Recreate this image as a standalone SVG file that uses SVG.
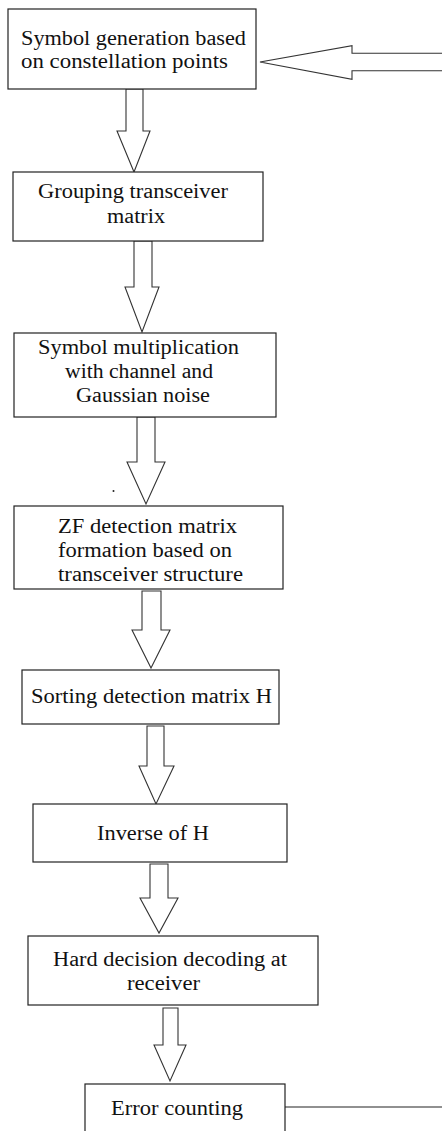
<svg xmlns="http://www.w3.org/2000/svg" width="442" height="1131" viewBox="0 0 442 1131">
<style>
.box{fill:#fff;stroke:#222;stroke-width:1.2}
.arr{fill:#fff;stroke:#333;stroke-width:1.1;stroke-linejoin:miter}
.line{fill:none;stroke:#222;stroke-width:1.1}
text{font-family:"Liberation Serif","Times New Roman",serif;font-size:20px;fill:#111}
</style>
<rect width="442" height="1131" fill="#fff"/>
<g id="connectors">
<path class="arr" d="M442,53.3 L352,53.3 L352,45.7 L260,62 L352,79.3 L352,70.7 L442,70.7"/>
<path class="arr" d="M126,89 L126,131 L117,131 L134,172 L150,131 L143,131 L143,89 Z"/>
<path class="arr" d="M134,241 L134,287 L125,287 L142,332 L159,287 L152,287 L152,241 Z"/>
<path class="arr" d="M137,417 L137,462 L127,462 L146,504 L165,462 L155,462 L155,417 Z"/>
<path class="arr" d="M142,591 L142,630 L132,630 L151,668 L170,630 L161,630 L161,591 Z"/>
<path class="arr" d="M147,726 L147,766 L139,766 L156,804 L174,766 L164,766 L164,726 Z"/>
<path class="arr" d="M150,864 L150,898 L140,898 L159,933 L178,898 L168,898 L168,864 Z"/>
<path class="arr" d="M163,1008 L163,1045 L154,1045 L170,1081 L186,1045 L178,1045 L178,1008 Z"/>
<path class="line" d="M285,1107 L442,1107"/>
<circle cx="113.5" cy="491" r="1" fill="#222"/>
</g>
<g id="n1">
<rect class="box" x="8" y="9" width="248" height="80"/>
<text x="21" y="45" textLength="225" lengthAdjust="spacingAndGlyphs">Symbol generation based</text>
<text x="21" y="68" textLength="207" lengthAdjust="spacingAndGlyphs">on constellation points</text>
</g>
<g id="n2">
<rect class="box" x="13" y="172" width="250" height="69"/>
<text x="38" y="198" textLength="190" lengthAdjust="spacingAndGlyphs">Grouping transceiver</text>
<text x="107" y="223" textLength="58" lengthAdjust="spacingAndGlyphs">matrix</text>
</g>
<g id="n3">
<rect class="box" x="14" y="333" width="262" height="84"/>
<text x="38" y="354" textLength="201" lengthAdjust="spacingAndGlyphs">Symbol multiplication</text>
<text x="65" y="378" textLength="148" lengthAdjust="spacingAndGlyphs">with channel and</text>
<text x="76" y="402" textLength="134" lengthAdjust="spacingAndGlyphs">Gaussian noise</text>
</g>
<g id="n4">
<rect class="box" x="14" y="506" width="269" height="83"/>
<text x="58" y="533" textLength="179" lengthAdjust="spacingAndGlyphs">ZF detection matrix</text>
<text x="58" y="557" textLength="174" lengthAdjust="spacingAndGlyphs">formation based on</text>
<text x="58" y="581" textLength="185" lengthAdjust="spacingAndGlyphs">transceiver structure</text>
</g>
<g id="n5">
<rect class="box" x="22" y="670" width="257" height="54"/>
<text x="31" y="703" textLength="241" lengthAdjust="spacingAndGlyphs">Sorting detection matrix H</text>
</g>
<g id="n6">
<rect class="box" x="33" y="804" width="254" height="58"/>
<text x="97" y="840" textLength="112" lengthAdjust="spacingAndGlyphs">Inverse of H</text>
</g>
<g id="n7">
<rect class="box" x="28" y="936" width="290" height="69"/>
<text x="53" y="966" textLength="234" lengthAdjust="spacingAndGlyphs">Hard decision decoding at</text>
<text x="127" y="990" textLength="73" lengthAdjust="spacingAndGlyphs">receiver</text>
</g>
<g id="n8">
<rect class="box" x="85" y="1084" width="200" height="60"/>
<text x="111" y="1115" textLength="132" lengthAdjust="spacingAndGlyphs">Error counting</text>
</g>
</svg>
